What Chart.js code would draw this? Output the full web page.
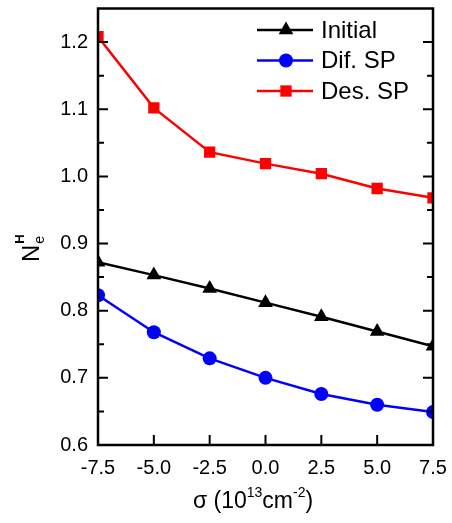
<!DOCTYPE html>
<html>
<head>
<meta charset="utf-8">
<script src="https://cdn.jsdelivr.net/npm/chart.js@4/dist/chart.umd.min.js"></script>
<style>
  html, body { margin: 0; padding: 0; background: #fff; }
  #wrap { width: 452px; height: 523px; position: relative; }
</style>
</head>
<body>
<div id="wrap"><canvas id="chart"></canvas></div>
<script>
// sigma values (10^13 cm^-2)
const sigma = [-7.5, -5.0, -2.5, 0.0, 2.5, 5.0, 7.5];
const initialVals = [0.872, 0.853, 0.833, 0.812, 0.791, 0.769, 0.747];
const difSpVals = [0.823, 0.768, 0.729, 0.700, 0.676, 0.660, 0.649];
const desSpVals = [1.208, 1.102, 1.036, 1.019, 1.004, 0.982, 0.968];
const seriesNames = ['Initial', 'Dif. SP', 'Des. SP'];
const xTicks = [-7.5, -5.0, -2.5, 0.0, 2.5, 5.0, 7.5];
const yTicks = [0.6, 0.7, 0.8, 0.9, 1.0, 1.1, 1.2];
const yMinorTicks = [0.65, 0.75, 0.85, 0.95, 1.05, 1.15];

const FONT = 'Liberation Sans, Arial, sans-serif';

const toPoints = vals => sigma.map((s, i) => ({ x: s, y: vals[i] }));

// frame + inward tick marks
const framePlugin = {
  id: 'frame',
  afterDatasetsDraw(chart) {
    const { ctx, chartArea: a, scales } = chart;
    ctx.save();
    ctx.strokeStyle = '#000';
    ctx.lineWidth = 2.5;
    ctx.strokeRect(a.left, a.top, a.right - a.left, a.bottom - a.top);
    ctx.lineWidth = 2;
    ctx.beginPath();
    xTicks.forEach(v => {
      const px = scales.x.getPixelForValue(v);
      ctx.moveTo(px, a.bottom); ctx.lineTo(px, a.bottom - 10);
    });
    yTicks.forEach(v => {
      const py = scales.y.getPixelForValue(v);
      ctx.moveTo(a.left, py); ctx.lineTo(a.left + 10, py);
      ctx.moveTo(a.right, py); ctx.lineTo(a.right - 10, py);
    });
    yMinorTicks.forEach(v => {
      const py = scales.y.getPixelForValue(v);
      ctx.moveTo(a.left, py); ctx.lineTo(a.left + 6, py);
      ctx.moveTo(a.right, py); ctx.lineTo(a.right - 6, py);
    });
    ctx.stroke();
    ctx.restore();
  }
};

// legend with line-marker-line samples
const legendPlugin = {
  id: 'lineLegend',
  afterDraw(chart) {
    const { ctx } = chart;
    ctx.save();
    chart.data.datasets.forEach((ds, i) => {
      const y = 30 + i * 30.5;
      ctx.strokeStyle = ds.borderColor;
      ctx.fillStyle = ds.pointBackgroundColor;
      ctx.lineWidth = 2.5;
      ctx.beginPath();
      ctx.moveTo(257, y); ctx.lineTo(313, y);
      ctx.stroke();
      Chart.helpers.drawPoint(ctx, { pointStyle: ds.pointStyle, radius: ds.pointRadius, rotation: 0, borderWidth: 0 }, 286, y);
      ctx.fillStyle = '#000';
      ctx.font = '24px ' + FONT;
      ctx.textBaseline = 'middle';
      ctx.textAlign = 'left';
      ctx.fillText(ds.label, 321, y + 1);
    });
    ctx.restore();
  }
};

// axis titles with super/subscripts
const titlePlugin = {
  id: 'titles',
  afterDraw(chart) {
    const { ctx } = chart;
    ctx.save();
    ctx.fillStyle = '#000';
    ctx.textBaseline = 'alphabetic';
    // x title: σ (10^13cm^-2)
    const parts = [
      { t: 'σ (10', size: 23, dy: 0 },
      { t: '13', size: 14, dy: -11 },
      { t: 'cm', size: 23, dy: 0 },
      { t: '-2', size: 14, dy: -11 },
      { t: ')', size: 23, dy: 0 }
    ];
    let total = 0;
    parts.forEach(p => { ctx.font = p.size + 'px ' + FONT; p.w = ctx.measureText(p.t).width; total += p.w; });
    let x = 253 - total / 2;
    parts.forEach(p => {
      ctx.font = p.size + 'px ' + FONT;
      ctx.fillText(p.t, x, 508 + p.dy);
      x += p.w;
    });
    // y title: N with sup H, sub e
    ctx.translate(39, 262);
    ctx.rotate(-Math.PI / 2);
    ctx.font = '24px ' + FONT;
    ctx.fillText('N', 0, 0);
    const nw = ctx.measureText('N').width;
    ctx.font = 'bold 13px ' + FONT;
    ctx.fillText('H', nw + 1, -15);
    ctx.font = '14px ' + FONT;
    ctx.fillText('e', nw + 1, 5);
    ctx.restore();
  }
};

const makeDs = (label, vals, color, style, r) => ({
  label,
  data: toPoints(vals),
  borderColor: color,
  backgroundColor: color,
  pointBackgroundColor: color,
  pointBorderColor: color,
  pointBorderWidth: 0,
  pointStyle: style,
  pointRadius: r,
  pointHoverRadius: r,
  borderWidth: 2.5,
  tension: 0
});

new Chart(document.getElementById('chart'), {
  type: 'line',
  data: {
    datasets: [
      makeDs(seriesNames[0], initialVals, '#000000', 'triangle', 8.5),
      makeDs(seriesNames[1], difSpVals, '#0000ff', 'circle', 7),
      makeDs(seriesNames[2], desSpVals, '#ff0000', 'rect', 8)
    ]
  },
  options: {
    responsive: true,
    maintainAspectRatio: false,
    animation: false,
    layout: { padding: { top: 7, right: 19, left: 0, bottom: 0 } },
    plugins: { legend: { display: false }, tooltip: { enabled: false } },
    scales: {
      x: {
        type: 'linear',
        min: -7.5,
        max: 7.5,
        afterFit: s => { s.height = 78; s.paddingLeft = 0; s.paddingRight = 0; },
        afterBuildTicks: s => { s.ticks = xTicks.map(v => ({ value: v })); },
        grid: { display: false, drawTicks: false },
        border: { display: false },
        ticks: {
          padding: 11,
          color: '#000',
          font: { family: FONT, size: 20 },
          maxRotation: 0,
          callback: v => v.toFixed(1)
        }
      },
      y: {
        min: 0.6,
        max: 1.25,
        afterFit: s => { s.width = 98; s.paddingTop = 0; s.paddingBottom = 0; },
        afterBuildTicks: s => { s.ticks = yTicks.map(v => ({ value: v })); },
        grid: { display: false, drawTicks: false },
        border: { display: false },
        ticks: {
          padding: 10,
          color: '#000',
          font: { family: FONT, size: 20 },
          callback: v => v.toFixed(1)
        }
      }
    }
  },
  plugins: [framePlugin, legendPlugin, titlePlugin]
});
</script>
</body>
</html>
